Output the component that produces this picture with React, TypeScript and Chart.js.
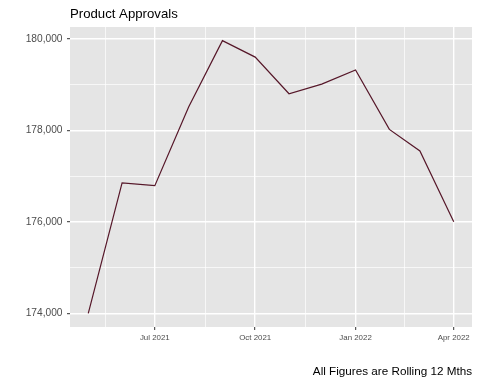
import React, { useEffect, useRef } from "react";
import { Chart, registerables } from "chart.js";

Chart.register(...registerables);

const TITLE = "Product Approvals";
const CAPTION = "All Figures are Rolling 12 Mths";
const DATES = [
  "2021-05-01", "2021-06-01", "2021-07-01", "2021-08-01", "2021-09-01", "2021-10-01",
  "2021-11-01", "2021-12-01", "2022-01-01", "2022-02-01", "2022-03-01", "2022-04-01",
];
const VALUES = [174000, 176850, 176790, 178510, 179960, 179600, 178800, 179010, 179320, 178020, 177550, 176000];
const X_BREAKS = ["2021-04-01", "2021-07-01", "2021-10-01", "2022-01-01", "2022-04-01"];
const X_LABELS = ["Apr 2021", "Jul 2021", "Oct 2021", "Jan 2022", "Apr 2022"];
const Y_BREAKS = [174000, 176000, 178000, 180000];
const Y_MINOR = [175000, 177000, 179000];

const FONT = "'Liberation Sans', Arial, Helvetica, sans-serif";

function dayNum(s: string): number {
  const [y, m, d] = s.split("-").map(Number);
  return Date.UTC(y, m - 1, d) / 86400000;
}

export default function App() {
  const ref = useRef<HTMLCanvasElement | null>(null);

  useEffect(() => {
    const canvas = ref.current;
    if (!canvas) return;
    const xs = DATES.map(dayNum);
    const xMin0 = Math.min(...xs);
    const xMax0 = Math.max(...xs);
    const xPad = (xMax0 - xMin0) * 0.05;
    const yMin0 = Math.min(...VALUES);
    const yMax0 = Math.max(...VALUES);
    const yPad = (yMax0 - yMin0) * 0.05;

    const xMajor = X_BREAKS.map(dayNum);
    const xMinor: number[] = [];
    for (let i = 0; i < xMajor.length - 1; i++) xMinor.push((xMajor[i] + xMajor[i + 1]) / 2);
    const xMin = xMin0 - xPad;
    const xMax = xMax0 + xPad;
    const xMajorIn = xMajor.filter((v) => v >= xMin && v <= xMax);
    const xMinorIn = xMinor.filter((v) => v >= xMin && v <= xMax);
    const labelFor = (v: number) => {
      const i = xMajor.indexOf(v);
      return i >= 0 ? X_LABELS[i] : "";
    };
    const isXMajor = (v: number) => xMajor.indexOf(v) >= 0;
    const isYMajor = (v: number) => Y_BREAKS.indexOf(v) >= 0;

    const bgPlugin = {
      id: "bgPanel",
      beforeDraw(chart: any) {
        const { ctx, chartArea } = chart;
        ctx.save();
        ctx.fillStyle = "#E5E5E5";
        ctx.fillRect(chartArea.left, chartArea.top, chartArea.right - chartArea.left, chartArea.bottom - chartArea.top);
        ctx.restore();
      },
      afterDraw(chart: any) {
        const { ctx, chartArea } = chart;
        ctx.save();
        ctx.fillStyle = "#000000";
        ctx.font = `13.2px ${FONT}`;
        ctx.textAlign = "left";
        ctx.textBaseline = "alphabetic";
        ctx.fillText(TITLE, chartArea.left, 17.5);
        ctx.font = `11.7px ${FONT}`;
        ctx.textAlign = "right";
        ctx.fillText(CAPTION, chartArea.right, 375);
        ctx.restore();
      },
    };

    const chart = new Chart(canvas, {
      type: "line",
      data: {
        datasets: [
          {
            data: xs.map((x, i) => ({ x, y: VALUES[i] })),
            borderColor: "#561729",
            borderWidth: 1.2,
            pointRadius: 0,
            tension: 0,
            fill: false,
          },
        ],
      },
      options: {
        responsive: false,
        animation: false,
        layout: { padding: { top: 27, right: 8, bottom: 37, left: 0 } },
        plugins: { legend: { display: false }, tooltip: { enabled: false }, title: { display: false } },
        scales: {
          x: {
            type: "linear",
            min: xMin,
            max: xMax,
            afterBuildTicks(scale: any) {
              scale.ticks = [...xMinorIn, ...xMajorIn].sort((a, b) => a - b).map((v) => ({ value: v }));
            },
            afterFit(scale: any) {
              scale.height = 20;
            },
            border: { display: false },
            grid: {
              color: "#FFFFFF",
              lineWidth: (c: any) => (c.tick && isXMajor(c.tick.value) ? 1.4 : 0.7),
              tickColor: (c: any) => (c.tick && isXMajor(c.tick.value) ? "#333333" : "rgba(0,0,0,0)"),
              tickLength: 3,
              tickWidth: 1,
            },
            ticks: {
              autoSkip: false,
              maxRotation: 0,
              padding: 3,
              color: "#4D4D4D",
              font: { family: FONT, size: 7.9 },
              callback: (v: any) => labelFor(Number(v)),
            },
          },
          y: {
            type: "linear",
            min: yMin0 - yPad,
            max: yMax0 + yPad,
            afterBuildTicks(scale: any) {
              scale.ticks = [...Y_MINOR, ...Y_BREAKS].sort((a, b) => a - b).map((v) => ({ value: v }));
            },
            afterFit(scale: any) {
              scale.width = 70;
            },
            border: { display: false },
            grid: {
              color: "#FFFFFF",
              lineWidth: (c: any) => (c.tick && isYMajor(c.tick.value) ? 1.4 : 0.7),
              tickColor: (c: any) => (c.tick && isYMajor(c.tick.value) ? "#333333" : "rgba(0,0,0,0)"),
              tickLength: 3,
              tickWidth: 1,
            },
            ticks: {
              autoSkip: false,
              padding: 4.5,
              color: "#4D4D4D",
              font: { family: FONT, size: 10.2 },
              callback: (v: any) => (isYMajor(Number(v)) ? Number(v).toLocaleString("en-US") : ""),
            },
          },
        },
      },
      plugins: [bgPlugin],
    } as any);

    return () => chart.destroy();
  }, []);

  return (
    <div style={{ position: "fixed", left: 0, top: 0, width: 480, height: 384, background: "#fff" }}>
      <canvas ref={ref} width={480} height={384} style={{ width: 480, height: 384, display: "block" }} />
    </div>
  );
}
